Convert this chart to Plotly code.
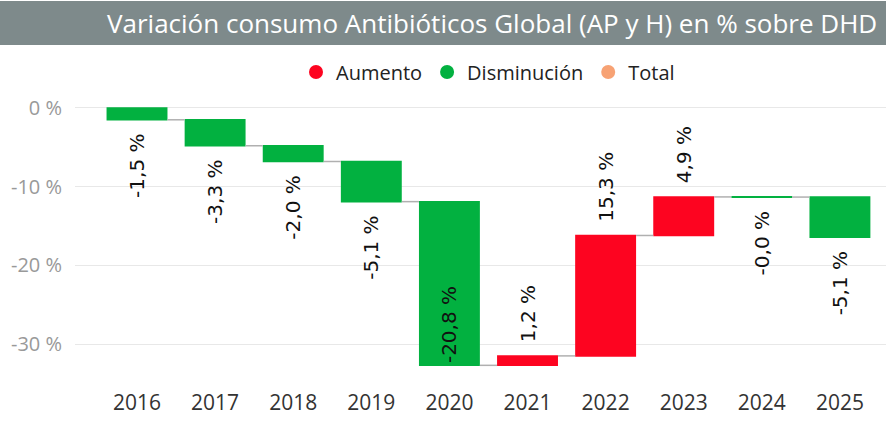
import plotly.graph_objects as go

years = ["2016", "2017", "2018", "2019", "2020", "2021", "2022", "2023", "2024", "2025"]
variation = [-1.5, -3.3, -2.0, -5.1, -20.8, 1.2, 15.3, 4.9, -0.02, -5.1]

ytick_vals = [0, -10, -20, -30]
ytick_text = ["0 %", "-10 %", "-20 %", "-30 %"]

legend_names = ["Aumento", "Disminución", "Total"]
legend_colors = ["#FD0420", "#02B140", "#F7A274"]

title = "Variación consumo Antibióticos Global (AP y H) en % sobre DHD"

W, H = 886, 429
ML, MR, MT, MB = 75, 0, 95, 41
PW, PH = W - ML - MR, H - MT - MB


def px_x(px):
    return (px - ML) / PW


def px_y(py):
    return 1 + (MT - py) / PH


PAD = "\u2002"  # extra gap between a bar end and its outside label


def fmt(v):
    s = f"{v:.1f} %".replace(".", ",")
    return s + PAD if v < 0 else PAD + s


# the biggest drop has no room below it, so its label sits inside the bar end
positions = ["inside" if v < -15 else "outside" for v in variation]
labels = [f"{v:.1f} %".replace(".", ",") if p == "inside" else fmt(v)
          for v, p in zip(variation, positions)]

fig = go.Figure()
fig.add_trace(go.Waterfall(
    x=years,
    y=variation,
    measure=["relative"] * len(years),
    text=labels,
    textposition=positions,
    insidetextanchor="end",
    textangle=-90,
    constraintext="none",
    textfont=dict(family="DejaVu Sans", size=20, color="#111111"),
    insidetextfont=dict(family="DejaVu Sans", size=20, color="#111111"),
    outsidetextfont=dict(family="DejaVu Sans", size=20, color="#111111"),
    increasing=dict(marker=dict(color=legend_colors[0])),
    decreasing=dict(marker=dict(color=legend_colors[1])),
    totals=dict(marker=dict(color=legend_colors[2])),
    connector=dict(line=dict(color="#B0B0B0", width=1.5)),
    width=0.78,
    showlegend=False,
    cliponaxis=False,
    hoverinfo="skip",
))

for name, col in zip(legend_names, legend_colors):
    fig.add_trace(go.Scatter(
        x=[None], y=[None], mode="markers", name=name,
        marker=dict(color=col, size=14, symbol="circle"),
        showlegend=True,
    ))

fig.add_shape(type="rect", xref="paper", yref="paper",
              x0=px_x(0), x1=px_x(W), y0=px_y(45), y1=px_y(1),
              fillcolor="#7E8A8B", line=dict(width=0), layer="below")
fig.add_annotation(text=title, xref="paper", yref="paper",
                   x=px_x(879), y=px_y(23), xanchor="right", yanchor="middle",
                   showarrow=False,
                   font=dict(family="Open Sans", size=26, color="#FFFFFF"))

fig.update_layout(
    width=W, height=H,
    margin=dict(l=ML, r=MR, t=MT, b=MB),
    paper_bgcolor="white", plot_bgcolor="white",
    font=dict(family="Open Sans", color="#333333"),
    legend=dict(orientation="h", x=px_x(488), xanchor="center",
                y=px_y(72), yanchor="middle",
                font=dict(family="Open Sans", size=20, color="#222222"),
                itemwidth=30, traceorder="normal",
                bgcolor="rgba(0,0,0,0)"),
    xaxis=dict(type="category", range=[-0.794, 9.59], showgrid=False,
               showline=False, ticks="",
               tickfont=dict(family="Open Sans", size=21, color="#333333")),
    yaxis=dict(range=[-35.58, 1.65], tickvals=ytick_vals, ticktext=ytick_text,
               showgrid=True, gridcolor="#E8E8E8", gridwidth=1,
               zeroline=False, showline=False, ticks="",
               ticklabelstandoff=12,
               tickfont=dict(family="Open Sans", size=20, color="#999999")),
)

fig.write_html("out.html", config={"displayModeBar": False},
               post_script="document.body.style.margin='0';")
